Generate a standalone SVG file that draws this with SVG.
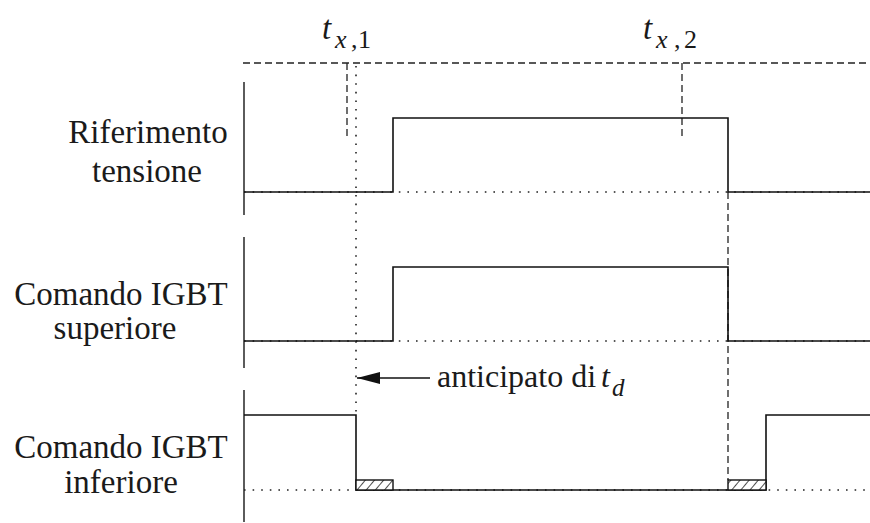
<svg xmlns="http://www.w3.org/2000/svg" width="870" height="523" viewBox="0 0 870 523">
<style>
.sig{fill:none;stroke:#111;stroke-width:1.6}
.axis{fill:none;stroke:#333;stroke-width:1.6}
.dash{fill:none;stroke:#222;stroke-width:1.3;stroke-dasharray:7 4}
.dot{fill:none;stroke:#222;stroke-width:1.6;stroke-dasharray:1.6 7}
.lbl{font-family:"Liberation Serif","Times New Roman",serif;font-size:33px;fill:#1a1a1a;text-anchor:middle}
.txt{font-family:"Liberation Serif","Times New Roman",serif;fill:#1a1a1a}
</style>
<defs>
<pattern id="hatch" width="7" height="7" patternUnits="userSpaceOnUse" patternTransform="rotate(40)">
<rect width="7" height="7" fill="#fff"/>
<line x1="0" y1="0" x2="0" y2="7" stroke="#222" stroke-width="1.6"/>
</pattern>
<marker id="arr" markerWidth="24" markerHeight="14" refX="23" refY="7" orient="auto" markerUnits="userSpaceOnUse">
<path d="M0,1 L23,7 L0,13 Z" fill="#111"/>
</marker>
</defs>
<rect width="870" height="523" fill="#fff"/>

<g id="labels">
<text class="lbl" x="148" y="143">Riferimento</text>
<text class="lbl" x="147" y="182">tensione</text>
<text class="lbl" x="121" y="305">Comando IGBT</text>
<text class="lbl" x="115" y="339">superiore</text>
<text class="lbl" x="121" y="458">Comando IGBT</text>
<text class="lbl" x="121" y="493">inferiore</text>
</g>

<g id="tx1">
<text class="txt" x="322" y="39" font-size="33" font-style="italic">t</text>
<text class="txt" y="48" font-size="26"><tspan x="335" font-style="italic">x</tspan><tspan x="351">,</tspan><tspan x="358">1</tspan></text>
</g>
<g id="tx2">
<text class="txt" x="643" y="39" font-size="33" font-style="italic">t</text>
<text class="txt" y="48" font-size="26"><tspan x="656" font-style="italic">x</tspan><tspan x="674">,</tspan><tspan x="684">2</tspan></text>
</g>

<g id="axes">
<line class="axis" x1="244" y1="82" x2="244" y2="215"/>
<line class="axis" x1="244" y1="237" x2="244" y2="368"/>
<line class="axis" x1="244" y1="390" x2="244" y2="522"/>
</g>

<g id="guides">
<line class="dash" x1="243" y1="63" x2="870" y2="63"/>
<line class="dash" x1="347" y1="63" x2="347" y2="137"/>
<line class="dash" x1="682" y1="63" x2="682" y2="137"/>
<line class="dash" x1="728" y1="192" x2="728" y2="480"/>
<line class="dot" x1="356" y1="66" x2="356" y2="414"/>
<line class="dot" x1="244" y1="192" x2="870" y2="192"/>
<line class="dot" x1="244" y1="341" x2="870" y2="341"/>
<line class="dot" x1="244" y1="490" x2="870" y2="490"/>
</g>

<g id="signal-riferimento">
<polyline class="sig" points="244,192 393,192 393,118 728,118 728,192 870,192"/>
</g>
<g id="signal-superiore">
<polyline class="sig" points="244,341 393,341 393,267 728,267 728,341 870,341"/>
</g>
<g id="signal-inferiore">
<polyline class="sig" points="244,415 356,415 356,490 766,490 766,415 870,415"/>
<rect x="356" y="480" width="37" height="10" fill="url(#hatch)" stroke="#111" stroke-width="1.4"/>
<rect x="728" y="480" width="38" height="10" fill="url(#hatch)" stroke="#111" stroke-width="1.4"/>
</g>

<g id="connectors">
<line x1="430" y1="378" x2="357" y2="378" stroke="#111" stroke-width="1.6" marker-end="url(#arr)"/>
</g>
<g id="annotation">
<text class="txt" x="437" y="387" font-size="32">anticipato di</text>
<text class="txt" x="601" y="387" font-size="32" font-style="italic">t</text>
<text class="txt" x="612" y="396" font-size="25" font-style="italic">d</text>
</g>
</svg>
